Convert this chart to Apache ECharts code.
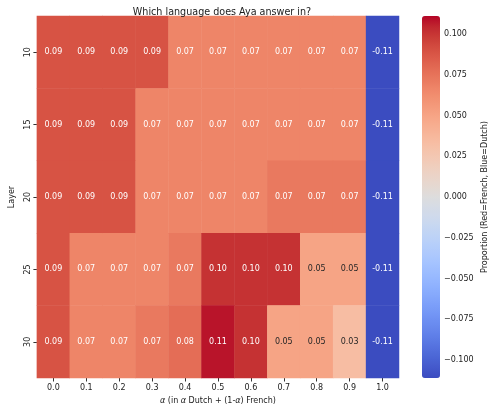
<!DOCTYPE html>
<html>
<head>
<meta charset="utf-8">
<script src="https://cdn.jsdelivr.net/npm/echarts@6/dist/echarts.min.js"></script>
<style>html,body{margin:0;padding:0;background:#fff}#c{width:490px;height:412px}</style>
</head>
<body>
<div id="c"></div>
<script>
// ---- data ----
const alphas = ['0.0','0.1','0.2','0.3','0.4','0.5','0.6','0.7','0.8','0.9','1.0'];
const layers = ['10','15','20','25','30'];
const layer10 = [0.0889,0.0889,0.0889,0.0889,0.0667,0.0667,0.0667,0.0667,0.0667,0.0667,-0.1111];
const layer15 = [0.0889,0.0889,0.0889,0.0667,0.0667,0.0667,0.0667,0.0667,0.0667,0.0667,-0.1111];
const layer20 = [0.0889,0.0889,0.0889,0.0667,0.0667,0.0667,0.0667,0.0722,0.0722,0.0722,-0.1111];
const layer25 = [0.0889,0.0667,0.0667,0.0667,0.0722,0.1010,0.1010,0.1010,0.0500,0.0500,-0.1111];
const layer30 = [0.0889,0.0667,0.0667,0.0722,0.0778,0.1080,0.1010,0.0500,0.0500,0.0333,-0.1111];
const rows = [layer10, layer15, layer20, layer25, layer30];
const colorbarTicks = [-0.1,-0.075,-0.05,-0.025,0,0.025,0.05,0.075,0.1];
const vmin = -0.1111, vmax = 0.1111;
const title = 'Which language does Aya answer in?';
const xName = '{i|α} (in {i|α} Dutch + (1-{i|α}) French)';
const yName = 'Layer';
const cbName = 'Proportion (Red=French, Blue=Dutch)';

const coolwarm = ['#3b4cc0','#445acc','#4d68d7','#5775e1','#6282ea','#6c8ef1','#779af7','#82a5fb','#8db0fe','#98b9ff','#a3c2ff','#aec9fd','#b8d0f9','#c2d5f4','#ccd9ee','#d5dbe6','#dddddd','#e5d8d1','#ecd3c6','#f1ccb9','#f5c4ad','#f7bba0','#f7b194','#f7a687','#f49a7b','#f18d6f','#ec7f63','#e57058','#de604d','#d55042','#cb3e38','#c0282f','#b40426'];

const data = [];
rows.forEach((r, yi) => r.forEach((v, xi) => {
  const dark = Math.abs(v) < 0.06;
  data.push({value: [xi, yi, v], label: {color: dark ? '#262626' : '#ffffff'}});
}));

const FONT = 'DejaVu Sans';
const chart = echarts.init(document.getElementById('c'), null, {renderer: 'canvas'});
chart.setOption({
  animation: false,
  textStyle: {fontFamily: FONT},
  title: {text: title, left: 217, top: 2, textAlign: 'center',
    textStyle: {fontFamily: FONT, fontSize: 9.6, fontWeight: 'normal', color: '#1a1a1a'}},
  grid: [
    {left: 34, right: 91, top: 16, bottom: 34},
    {left: 422, width: 18, top: 16, height: 362}
  ],
  xAxis: [
    {type: 'category', data: alphas, gridIndex: 0,
      axisLine: {show: false}, splitLine: {show: false},
      axisTick: {show: true, alignWithLabel: true, length: 3.5, lineStyle: {color: '#333'}},
      axisLabel: {fontFamily: FONT, fontSize: 8, color: '#1a1a1a', margin: 6},
      name: xName, nameLocation: 'middle', nameGap: 16,
      nameTextStyle: {fontFamily: FONT, fontSize: 8, color: '#1a1a1a',
        rich: {i: {fontStyle: 'italic', fontFamily: FONT, fontSize: 8, color: '#1a1a1a'}}}},
    {type: 'value', gridIndex: 1, show: false, min: 0, max: 1}
  ],
  yAxis: [
    {type: 'category', data: layers, inverse: true, gridIndex: 0,
      axisLine: {show: false}, splitLine: {show: false},
      axisTick: {show: true, alignWithLabel: true, length: 3.5, lineStyle: {color: '#333'}},
      axisLabel: {fontFamily: FONT, fontSize: 8, color: '#1a1a1a', rotate: 90, margin: 5},
      name: yName, nameLocation: 'middle', nameGap: 17, nameRotate: 90,
      nameTextStyle: {fontFamily: FONT, fontSize: 8, color: '#1a1a1a'}},
    {type: 'value', gridIndex: 1, position: 'right', min: vmin, max: vmax,
      axisLine: {show: false}, splitLine: {show: false},
      axisTick: {show: true, length: 3.5, lineStyle: {color: '#333'}, customValues: colorbarTicks},
      axisLabel: {fontFamily: FONT, fontSize: 8, color: '#1a1a1a', margin: 5, customValues: colorbarTicks,
        formatter: v => (v < 0 ? '\u2212' : '') + Math.abs(v).toFixed(3)},
      name: cbName, nameLocation: 'middle', nameGap: 42, nameRotate: 90,
      nameTextStyle: {fontFamily: FONT, fontSize: 8, color: '#1a1a1a'}}
  ],
  visualMap: {
    type: 'continuous', min: vmin, max: vmax, seriesIndex: 0,
    calculable: false, show: true, orient: 'vertical',
    left: 422, top: 16, itemWidth: 18, itemHeight: 362, padding: 0,
    text: null, showLabel: false,
    inRange: {color: coolwarm}
  },
  series: [{
    type: 'heatmap', xAxisIndex: 0, yAxisIndex: 0, data: data,
    label: {show: true, fontFamily: FONT, fontSize: 8,
      formatter: p => p.value[2].toFixed(2)},
    itemStyle: {borderWidth: 0},
    emphasis: {disabled: true}
  }]
});
</script>
</body>
</html>
